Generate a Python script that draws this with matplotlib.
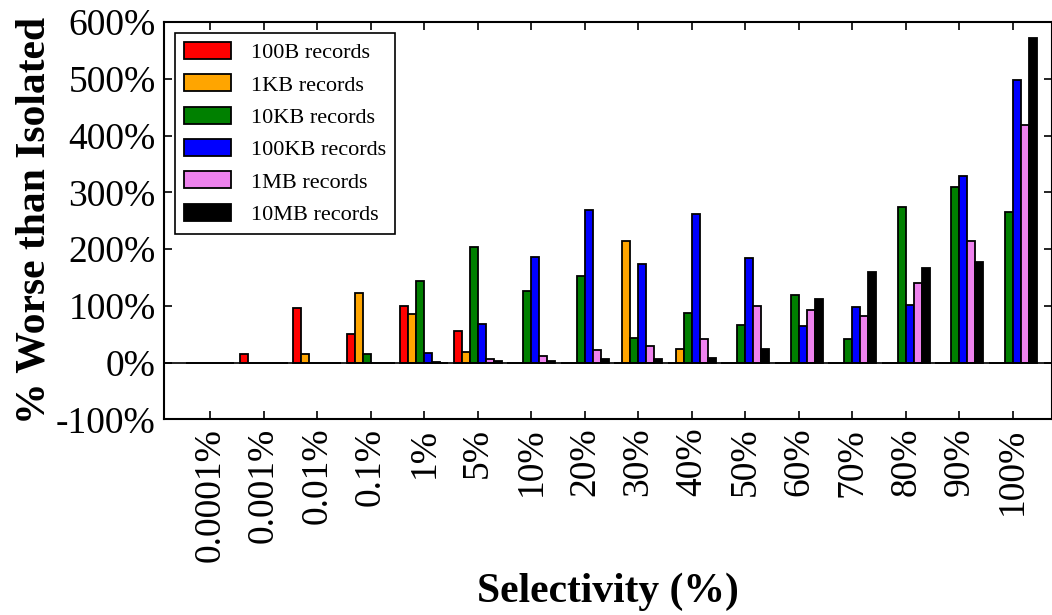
import matplotlib
matplotlib.use("Agg")
import matplotlib.pyplot as plt
import numpy as np

plt.rcParams['font.family'] = ['Liberation Serif', 'DejaVu Serif']

selectivity = ["0.0001%", "0.001%", "0.01%", "0.1%", "1%", "5%", "10%", "20%",
               "30%", "40%", "50%", "60%", "70%", "80%", "90%", "100%"]

# % worse than isolated, per record size
rec_100b  = [-1, 15, 97, 50, 100, 55, 0, 0, 0, 0, 0, 0, 0, 0, 0, 0]
rec_1kb   = [-1, -1, 16, 122, 86, 19, 0, 0, 214, 24, 0, 0, 0, 0, 0, 0]
rec_10kb  = [-1, -1, -1, 16, 144, 203, 126, 153, 43, 87, 66, 119, 42, 275, 310, 266]
rec_100kb = [-1, -1, -1, -1, 17, 68, 186, 269, 174, 262, 184, 65, 98, 102, 329, 498]
rec_1mb   = [-1, -1, -1, -1, 1, 6, 12, 22, 29, 41, 99, 92, 83, 141, 214, 418]
rec_10mb  = [-1, -1, -1, -1, 0, 3, 3, 6, 7, 9, 24, 113, 160, 166, 177, 572]

series = [
    ("100B records", rec_100b, "red"),
    ("1KB records", rec_1kb, "orange"),
    ("10KB records", rec_10kb, "green"),
    ("100KB records", rec_100kb, "blue"),
    ("1MB records", rec_1mb, "violet"),
    ("10MB records", rec_10mb, "black"),
]

yticks = [-100, 0, 100, 200, 300, 400, 500, 600]

fig = plt.figure(figsize=(10.52, 6.15), dpi=100)
ax = fig.add_axes([0.156, 0.318, 0.844, 0.646])

x = np.arange(len(selectivity))
w = 0.15
for i, (name, vals, col) in enumerate(series):
    ax.bar(x + (i - 2.5) * w, vals, w, color=col, edgecolor="black",
           linewidth=1.3, label=name)

ax.axhline(0, color="black", linewidth=1.2)

ax.set_xlim(-0.86, 15.73)
ax.set_ylim(-100, 600)
ax.set_xticks(x)
ax.set_xticklabels(selectivity, rotation=90, fontsize=27)
ax.set_yticks(yticks)
ax.set_yticklabels(["%d%%" % v for v in yticks], fontsize=27)
ax.tick_params(direction="in", length=6, width=1.2, top=True, right=True, pad=6)
for s in ax.spines.values():
    s.set_linewidth(1.5)

ax.set_xlabel("Selectivity (%)", fontsize=30, fontweight="bold", labelpad=8)
ax.set_ylabel("% Worse than Isolated", fontsize=30, fontweight="bold", labelpad=2)

leg = ax.legend(loc="upper left", fontsize=16, fancybox=False, framealpha=1,
                edgecolor="black", handlelength=2.1, handleheight=0.8,
                handletextpad=0.9, borderaxespad=0.5, labelspacing=0.5)
leg.get_frame().set_linewidth(1.2)

fig.savefig("out.png", dpi=100)
